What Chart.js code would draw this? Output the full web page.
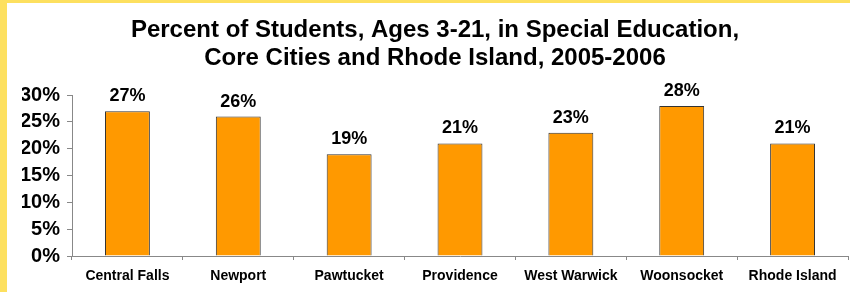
<!DOCTYPE html>
<html>
<head>
<meta charset="utf-8">
<script src="https://cdn.jsdelivr.net/npm/chart.js@4/dist/chart.umd.min.js"></script>
<style>
  html, body { margin: 0; padding: 0; }
  body { width: 850px; height: 292px; background: #fde05f; position: relative; overflow: hidden; }
  #wrap { position: absolute; left: 7px; top: 3px; width: 843px; height: 289px; background: #fff; }
</style>
</head>
<body>
<div id="wrap"><canvas id="chart"></canvas></div>
<script>
const categories = ['Central Falls', 'Newport', 'Pawtucket', 'Providence', 'West Warwick', 'Woonsocket', 'Rhode Island'];
const percents = [27, 26, 19, 21, 23, 28, 21];
const titleLines = ['Percent of Students, Ages 3-21, in Special Education,', 'Core Cities and Rhode Island, 2005-2006'];

const fontFamily = '"Liberation Sans", Arial, Helvetica, sans-serif';

// draws the value above each bar
const barLabelPlugin = {
  id: 'barLabels',
  afterDatasetsDraw: (chart) => {
    const ctx = chart.ctx;
    const meta = chart.getDatasetMeta(0);
    ctx.save();
    ctx.font = `bold 18px ${fontFamily}`;
    ctx.fillStyle = '#000';
    ctx.textAlign = 'center';
    ctx.textBaseline = 'alphabetic';
    meta.data.forEach((bar, i) => {
      ctx.fillText(`${percents[i]}%`, bar.x, bar.y - 10);
    });
    ctx.restore();
  },
};

new Chart(document.getElementById('chart').getContext('2d'), {
  type: 'bar',
  data: {
    labels: categories,
    datasets: [{
      data: percents,
      backgroundColor: '#ff9900',
      borderColor: '#333333',
      borderWidth: 1,
      categoryPercentage: 1,
      barPercentage: 0.405,
    }],
  },
  plugins: [barLabelPlugin],
  options: {
    responsive: true,
    maintainAspectRatio: false,
    animation: false,
    layout: { padding: { left: 15, right: 2, top: 0, bottom: 0 } },
    scales: {
      x: {
        afterFit: (scale) => { scale.height = 36; },
        grid: { drawOnChartArea: false, offset: true, tickLength: 4, color: '#888' },
        border: { color: '#888', width: 1 },
        ticks: {
          color: '#000',
          padding: 8,
          maxRotation: 0,
          font: { family: fontFamily, size: 14, weight: 'bold' },
        },
      },
      y: {
        min: 0,
        max: 30,
        afterFit: (scale) => { scale.width = 50; },
        grid: { drawOnChartArea: false, tickLength: 5, color: '#888' },
        border: { color: '#888', width: 1 },
        ticks: {
          stepSize: 5,
          autoSkip: false,
          color: '#000',
          padding: 7,
          font: { family: fontFamily, size: 20, weight: 'bold' },
          callback: (value) => `${value}%`,
        },
      },
    },
    plugins: {
      legend: { display: false },
      tooltip: { enabled: false },
      title: {
        display: true,
        text: titleLines,
        color: '#000',
        font: { family: fontFamily, size: 24, weight: 'bold', lineHeight: 1.17 },
        padding: { top: 13, bottom: 23 },
      },
    },
  },
});
</script>
</body>
</html>
